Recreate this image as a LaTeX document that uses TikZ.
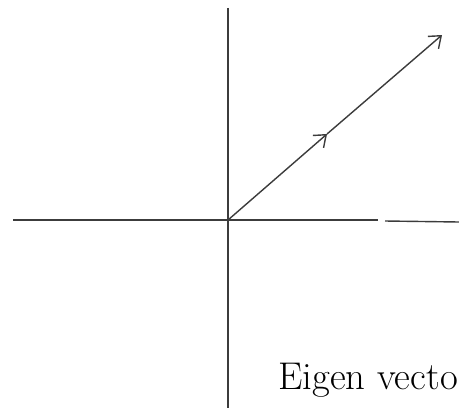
\documentclass[tikz,border=0pt]{standalone}
\usepackage{tikz}
\usetikzlibrary{arrows.meta}
\definecolor{penGray}{RGB}{60,60,60}

\begin{document}
\begin{tikzpicture}[x=0.03cm, y=0.03cm, axis/.style={penGray, line width=1.2pt}, vecline/.style={penGray, line width=1.2pt, -{Straight Barb[length=9pt, width=14pt]}}]
\useasboundingbox (0,0) rectangle (459,408);
\coordinate (O) at (228,188);
\coordinate (mid) at (327,274);
\coordinate (tip) at (442,373);
\draw[axis] (228,400) -- (228,0);
\draw[axis] (13,188) -- (378,188);
\draw[axis] (385,187) -- (459,186);
\draw[vecline] (O) -- (mid);
\draw[vecline] (mid) -- (tip);
\node[anchor=base east, inner sep=0pt, font=\fontsize{33}{40}\selectfont] (lbl) at (458,19) {Eigen vecto};
\end{tikzpicture}
\end{document}
